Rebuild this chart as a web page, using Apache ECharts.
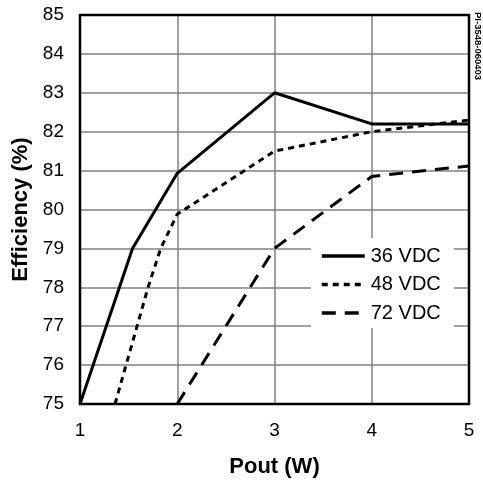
<!DOCTYPE html>
<html><head><meta charset="utf-8">
<script src="https://cdn.jsdelivr.net/npm/echarts@6/dist/echarts.min.js"></script>
<style>html,body{margin:0;padding:0;background:#fff}#c{width:483px;height:483px}</style>
</head><body><div id="c"></div>
<script>
const seriesNames = ['36 VDC', '48 VDC', '72 VDC'];
const x36 = [1, 1.54, 2, 3, 4, 5];
const y36 = [75, 79, 80.93, 83.0, 82.2, 82.2];
const x48 = [1.36, 1.7, 1.83, 2, 3, 4, 5];
const y48 = [75, 78, 79, 79.88, 81.5, 82.0, 82.3];
const x72 = [2, 2.75, 3, 4, 5];
const y72 = [75, 78, 79, 80.85, 81.12];
const xTicks = [1, 2, 3, 4, 5];
const yTicks = [75, 76, 77, 78, 79, 80, 81, 82, 83, 84, 85];

const zip = (xs, ys) => xs.map((x, i) => [x, ys[i]]);
const font = 'Liberation Sans, Arial, sans-serif';
const chart = echarts.init(document.getElementById('c'), null, {renderer: 'canvas'});
const dashes = ['solid', [6, 5], [14, 9]];
const data = [zip(x36, y36), zip(x48, y48), zip(x72, y72)];
chart.setOption({
  animation: false,
  backgroundColor: '#fff',
  grid: {left: 80, right: 14, top: 15, bottom: 78, show: true, borderColor: '#000', borderWidth: 2.5, backgroundColor: 'transparent', z: 10},
  xAxis: {
    type: 'value', min: xTicks[0], max: xTicks[xTicks.length - 1], interval: 1,
    name: 'Pout (W)', nameLocation: 'middle', nameGap: 52,
    nameTextStyle: {fontFamily: font, fontSize: 22, fontWeight: 'bold', color: '#000'},
    axisLine: {show: false}, axisTick: {show: false},
    axisLabel: {fontFamily: font, fontSize: 19, color: '#000', margin: 17},
    splitLine: {show: true, lineStyle: {color: '#808080', width: 1.5}}
  },
  yAxis: {
    type: 'value', min: yTicks[0], max: yTicks[yTicks.length - 1], interval: 1,
    name: 'Efficiency (%)', nameLocation: 'middle', nameGap: 47,
    nameTextStyle: {fontFamily: font, fontSize: 22, fontWeight: 'bold', color: '#000'},
    axisLine: {show: false}, axisTick: {show: false},
    axisLabel: {fontFamily: font, fontSize: 19, color: '#000', margin: 16},
    splitLine: {show: true, lineStyle: {color: '#808080', width: 1.5}}
  },
  legend: {
    left: 311, top: 238, orient: 'vertical', itemGap: 6.5,
    itemWidth: 43, itemHeight: 14, padding: [7, 13, 4, 9],
    backgroundColor: '#fff', z: 5,
    itemStyle: {opacity: 0},
    lineStyle: {width: 3.5},
    textStyle: {fontFamily: font, fontSize: 20, lineHeight: 20, color: '#000', padding: [2, 0, 0, 1]},
    data: seriesNames
  },
  graphic: [{
    type: 'text', left: 473, top: 12, rotation: -Math.PI / 2,
    style: {text: 'PI-3548-060403', fontFamily: font, fontSize: 9.5, fontWeight: 'bold', fill: '#000'}
  }],
  series: seriesNames.map((n, i) => ({
    name: n, type: 'line', symbol: 'none', data: data[i], z: 3,
    lineStyle: {color: '#000', width: 3, type: dashes[i]},
    itemStyle: {color: '#000'}
  }))
});
</script></body></html>
